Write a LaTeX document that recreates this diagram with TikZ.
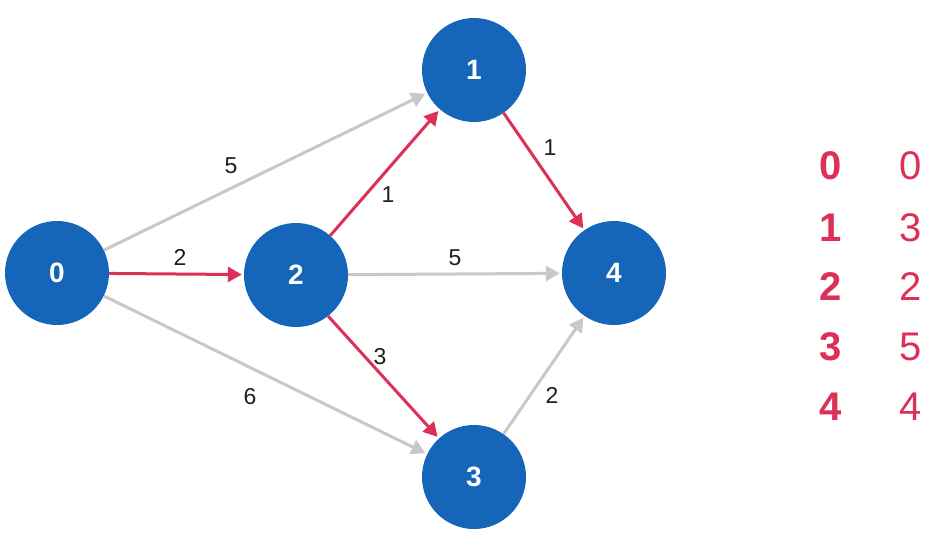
\documentclass[tikz,border=0pt]{standalone}
\usepackage{fontspec}
\setmainfont{Liberation Sans}
\usetikzlibrary{arrows.meta}
\definecolor{nodeblue}{RGB}{21,101,184}
\definecolor{pathred}{RGB}{221,48,86}
\definecolor{edgegray}{RGB}{200,200,200}
\definecolor{labelgray}{RGB}{30,30,30}
\tikzset{
  vert/.style={circle, fill=nodeblue, minimum size=104pt, inner sep=0pt, text=white, font=\fontsize{28}{30}\selectfont\bfseries},
  grayedge/.style={draw=edgegray, line width=3pt, -{Triangle[length=14pt,width=15pt]}, shorten >=2pt},
  rededge/.style={draw=pathred, line width=3pt, -{Triangle[length=14pt,width=15pt]}, shorten >=2pt},
  wlabel/.style={text=labelgray, font=\fontsize{23}{25}\selectfont},
  tabkey/.style={text=pathred, font=\fontsize{40}{42}\selectfont\bfseries},
  tabval/.style={text=pathred, font=\fontsize{40}{42}\selectfont},
}
\begin{document}
\begin{tikzpicture}[x=1pt,y=-1pt]
\useasboundingbox (0,0) rectangle (932,541);
\node[vert] (n0) at (57,273) {0};
\node[vert] (n2) at (296,275) {2};
\node[vert] (n1) at (474,70) {1};
\node[vert] (n4) at (614,273) {4};
\node[vert] (n3) at (474,477) {3};

\draw[grayedge] (n0) -- (n1);
\draw[grayedge] (n0) -- (n3);
\draw[grayedge] (n2) -- (n4);
\draw[grayedge] (n3) -- (n4);
\draw[rededge] (n0) -- (n2);
\draw[rededge] (n2) -- (n1);
\draw[rededge] (n2.-52) -- (n3);
\draw[rededge] (n1) -- (n4);

\node[wlabel] (l01) at (231,166) {5};
\node[wlabel] (l02) at (180,257) {2};
\node[wlabel] (l03) at (250,397) {6};
\node[wlabel] (l21) at (388,195) {1};
\node[wlabel] (l24) at (455,258) {5};
\node[wlabel] (l23) at (380,357) {3};
\node[wlabel] (l14) at (550,148) {1};
\node[wlabel] (l34) at (552,395) {2};

\node[tabkey] (k0) at (831,166) {0};
\node[tabkey] (k1) at (831,228) {1};
\node[tabkey] (k2) at (831,287) {2};
\node[tabkey] (k3) at (831,347) {3};
\node[tabkey] (k4) at (831,407) {4};
\node[tabval] (v0) at (911,166) {0};
\node[tabval] (v1) at (911,228) {3};
\node[tabval] (v2) at (911,287) {2};
\node[tabval] (v3) at (911,347) {5};
\node[tabval] (v4) at (911,407) {4};
\end{tikzpicture}
\end{document}
